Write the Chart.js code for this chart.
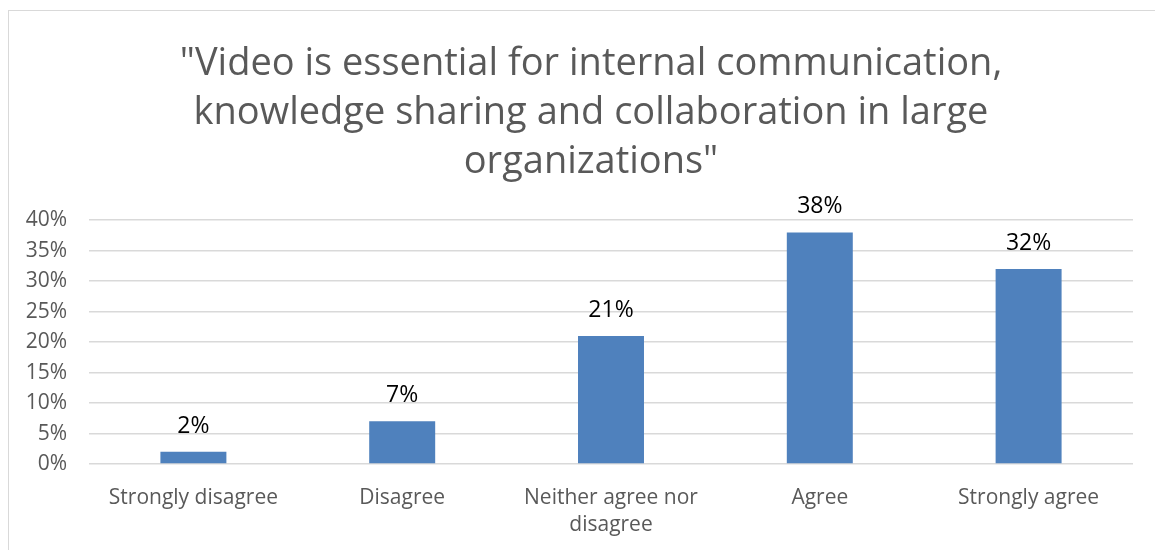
<!DOCTYPE html>
<html>
<head>
<meta charset="utf-8">
<script src="https://cdn.jsdelivr.net/npm/chart.js@4/dist/chart.umd.min.js"></script>
<style>
  html, body { margin: 0; padding: 0; background: #fff; overflow: hidden; }
  #box { position: absolute; left: 8px; top: 10px; width: 1180px; height: 560px; border: 1px solid #d9d9d9; background: #fff; }
  #wrap { position: absolute; left: 0; top: 0; width: 1164px; height: 539px; }
</style>
</head>
<body>
<div id="box"><div id="wrap"><canvas id="c"></canvas></div></div>
<script>
const titleLines = ['"Video is essential for internal communication,', 'knowledge sharing and collaboration in large', 'organizations"'];
const categories = ['Strongly disagree', 'Disagree', ['Neither agree nor', 'disagree'], 'Agree', 'Strongly agree'];
const values = [2, 7, 21, 38, 32];
const dataLabels = ['2%', '7%', '21%', '38%', '32%'];
const yTicks = [0, 5, 10, 15, 20, 25, 30, 35, 40];

const FONT = '"Open Sans", Carlito, Lato, sans-serif';

const labelPlugin = {
  id: 'barLabels',
  afterDatasetsDraw(chart) {
    const ctx = chart.ctx;
    const meta = chart.getDatasetMeta(0);
    ctx.save();
    ctx.font = '23px ' + FONT;
    ctx.fillStyle = '#000';
    ctx.textAlign = 'center';
    ctx.textBaseline = 'alphabetic';
    meta.data.forEach((bar, i) => {
      ctx.fillText(dataLabels[i], bar.x, bar.y - 19);
    });
    ctx.restore();
  }
};

new Chart(document.getElementById('c'), {
  type: 'bar',
  data: {
    labels: categories,
    datasets: [{
      data: values,
      backgroundColor: '#4F81BD',
      borderWidth: 0,
      categoryPercentage: 1,
      barPercentage: 0.316
    }]
  },
  options: {
    responsive: true,
    maintainAspectRatio: false,
    animation: false,
    layout: { padding: 0 },
    plugins: {
      legend: { display: false },
      tooltip: { enabled: false },
      title: {
        display: true,
        text: titleLines,
        color: '#595959',
        font: { family: FONT, size: 38, weight: 'normal', lineHeight: 1.3 },
        padding: { top: 28, bottom: 33 }
      }
    },
    scales: {
      x: {
        grid: { display: false },
        border: { display: false },
        ticks: {
          color: '#595959',
          font: { family: FONT, size: 21, lineHeight: 1.3 },
          padding: 12,
          maxRotation: 0,
          autoSkip: false
        },
        afterFit(scale) { scale.height = 86; }
      },
      y: {
        min: 0,
        max: 40,
        afterBuildTicks(scale) { scale.ticks = yTicks.map(v => ({ value: v })); },
        grid: { color: '#d9d9d9', lineWidth: 1.5, drawTicks: false },
        border: { display: false },
        ticks: {
          color: '#595959',
          font: { family: FONT, size: 21 },
          padding: 22,
          callback: v => v + '%'
        },
        afterFit(scale) { scale.width = 80; }
      },
      yRightSpace: {
        position: 'right',
        min: 0,
        max: 40,
        grid: { display: false, drawTicks: false },
        border: { display: false },
        ticks: { display: false },
        afterFit(scale) { scale.width = 40; }
      }
    }
  },
  plugins: [labelPlugin]
});
</script>
</body>
</html>
